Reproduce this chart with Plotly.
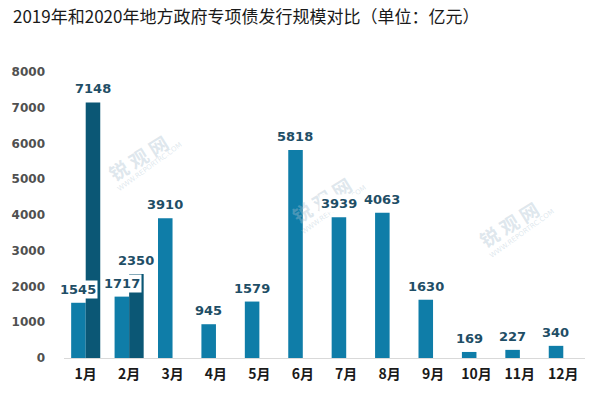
import plotly.graph_objects as go

months = ["1月", "2月", "3月", "4月", "5月", "6月", "7月", "8月", "9月", "10月", "11月", "12月"]
v2019 = [1545, 1717, 3910, 945, 1579, 5818, 3939, 4063, 1630, 169, 227, 340]
v2020 = [7148, 2350, None, None, None, None, None, None, None, None, None, None]
y_ticks = [0, 1000, 2000, 3000, 4000, 5000, 6000, 7000, 8000]
title_text = "2019年和2020年地方政府专项债发行规模对比（单位：亿元）"
wm_brand = "锐 观 网"
wm_url = "WWW.REPORTRC.COM"

C2019 = "#0F7DA8"
C2020 = "#0B5775"
LABEL_C = "#1F4E66"
WM_C = "rgba(170,192,208,0.38)"

W, H = 600, 396
ML, MR, MT, MB = 62, 15, 72, 38
BARGAP = 0.33
cat_px = (W - ML - MR) / len(months)
bar_px = cat_px * (1 - BARGAP) / 2

fig = go.Figure()
fig.add_trace(go.Bar(name="2019", x=months, y=v2019, marker=dict(color=C2019, line=dict(width=0)),
                     hoverinfo="skip"))
fig.add_trace(go.Bar(name="2020", x=months, y=v2020, marker=dict(color=C2020, line=dict(width=0)),
                     hoverinfo="skip"))

label_font = dict(family="DejaVu Sans", size=13, color=LABEL_C, weight="bold")
annotations = []

# faint watermarks (paper pixel positions)
for (px, py) in [(85, 118), (297, 177), (513, 210)]:
    annotations.append(dict(x=px / W, y=1 - py / H, xref="paper", yref="paper", text=wm_brand,
                            showarrow=False, textangle=-32, xanchor="center", yanchor="middle",
                            font=dict(family="Noto Sans CJK SC", size=19, color=WM_C, weight="bold")))
    annotations.append(dict(x=(px + 14) / W, y=1 - (py + 14) / H, xref="paper", yref="paper",
                            text=wm_url, showarrow=False, textangle=-36, xanchor="center",
                            yanchor="middle",
                            font=dict(family="DejaVu Sans", size=7, color=WM_C)))

for m, v in zip(months, v2020):
    if v is not None:
        annotations.append(dict(x=m, y=v, xref="x", yref="y", text=str(v), showarrow=False,
                                xshift=bar_px / 2, yshift=4, yanchor="bottom", font=label_font,
                                borderpad=1))
for m, v in zip(months, v2019):
    annotations.append(dict(x=m, y=v, xref="x", yref="y", text=str(v), showarrow=False,
                            xshift=-bar_px / 2, yshift=4, yanchor="bottom", font=label_font,
                            bgcolor="white", borderpad=1))

fig.update_layout(
    width=W, height=H,
    margin=dict(l=ML, r=MR, t=MT, b=MB),
    paper_bgcolor="white", plot_bgcolor="white",
    barmode="group", bargap=BARGAP, bargroupgap=0,
    showlegend=False,
    title=dict(text=title_text, x=13 / W, xref="container", xanchor="left",
               y=1 - 17 / H, yanchor="middle",
               font=dict(family="Noto Sans CJK SC", size=17, color="#1a1a1a")),
    xaxis=dict(type="category", range=[-0.5, len(months) - 0.5], showgrid=False, zeroline=False,
               showline=False, ticks="", ticklabelstandoff=6,
               tickfont=dict(family="Noto Sans CJK SC", size=14, color="#1a1a1a", weight="bold")),
    yaxis=dict(range=[0, 8000], tickvals=y_ticks, showgrid=False, zeroline=True,
               zerolinecolor="#D9D9D9", zerolinewidth=1, showline=False,
               ticks="", ticklabelstandoff=18,
               tickfont=dict(family="DejaVu Sans", size=12, color="#505050", weight="bold")),
    annotations=annotations,
)

fig.write_html("out.html", config={"displayModeBar": False},
               post_script="document.body.style.margin='0';")
